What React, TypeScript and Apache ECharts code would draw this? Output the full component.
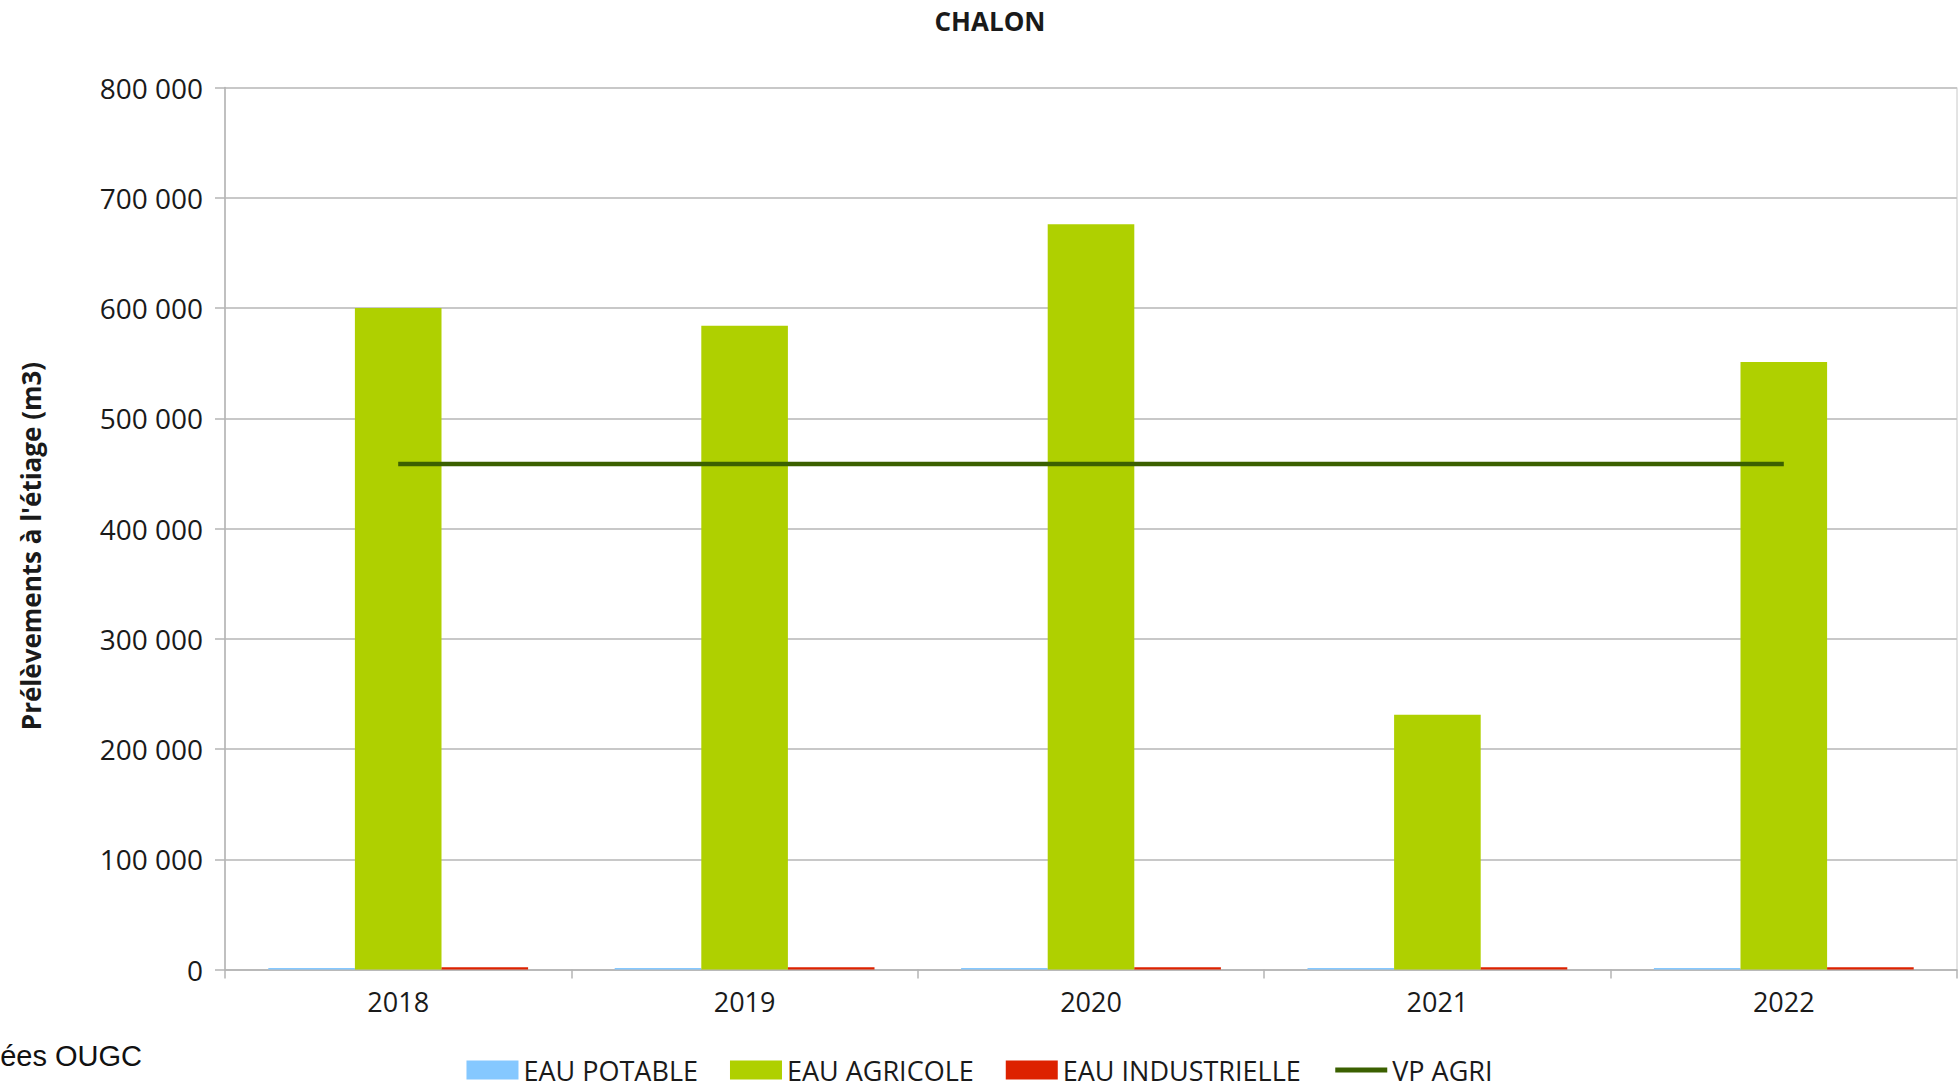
import React, { useEffect, useRef } from "react";
import * as echarts from "echarts";

const years = ["2018", "2019", "2020", "2021", "2022"];
const eauPotable = [1400, 1400, 1400, 1400, 1400];
const eauAgricole = [600000, 584000, 676000, 231000, 551000];
const eauIndustrielle = [2000, 2000, 2000, 2000, 2000];
const vpAgri = [458500, 458500, 458500, 458500, 458500];

const FONT = "'Open Sans', 'Noto Sans', sans-serif";

function fmt(v: number): string {
  return String(Math.round(v)).replace(/\B(?=(\d{3})+(?!\d))/g, " ");
}

export default function App() {
  const ref = useRef<HTMLDivElement>(null);
  useEffect(() => {
    document.body.style.margin = "0";
    if (!ref.current) return;
    const chart = echarts.init(ref.current, undefined, { renderer: "svg" });
    chart.setOption({
      animation: false,
      backgroundColor: "#ffffff",
      title: {
        text: "CHALON",
        left: 985,
        top: 3,
        textAlign: "center",
        textStyle: { fontFamily: FONT, fontSize: 26, fontWeight: "bold", color: "#1a1a1a" },
      },
      grid: {
        left: 225,
        right: 2,
        top: 87.5,
        bottom: 120.5,
        show: true,
        borderColor: "#c8c8c8",
        borderWidth: 1,
      },
      legend: {
        top: 1055,
        left: "center",
        padding: 0,
        itemWidth: 52,
        itemHeight: 19,
        itemGap: 32,
        textStyle: { fontFamily: FONT, fontSize: 27, lineHeight: 30, color: "#1a1a1a" },
        data: [
          { name: "EAU POTABLE", icon: "rect" },
          { name: "EAU AGRICOLE", icon: "rect" },
          { name: "EAU INDUSTRIELLE", icon: "rect" },
          {
            name: "VP AGRI",
            itemStyle: { color: "rgba(0,0,0,0)", borderColor: "rgba(0,0,0,0)", borderWidth: 0 },
            lineStyle: { color: "#3b6000", width: 5 },
          },
        ],
      },
      xAxis: {
        type: "category",
        data: years,
        axisLine: { lineStyle: { color: "#b4b4b4", width: 1.5 } },
        axisTick: { show: true, length: 9, lineStyle: { color: "#b4b4b4", width: 1.5 } },
        axisLabel: { fontFamily: FONT, fontSize: 27, color: "#1a1a1a", margin: 18 },
      },
      yAxis: {
        type: "value",
        min: 0,
        max: 800000,
        interval: 100000,
        axisLine: { show: true, lineStyle: { color: "#b4b4b4", width: 1.5 } },
        axisTick: { show: true, length: 10, lineStyle: { color: "#b4b4b4", width: 1.5 } },
        splitLine: { lineStyle: { color: "#c8c8c8", width: 2 } },
        axisLabel: {
          fontFamily: FONT,
          fontSize: 28,
          color: "#1a1a1a",
          margin: 22,
          formatter: (v: number) => fmt(v),
        },
      },
      series: [
        {
          name: "EAU POTABLE",
          type: "bar",
          data: eauPotable,
          itemStyle: { color: "#85c8ff" },
          barGap: "0%",
          barCategoryGap: "25%",
        },
        {
          name: "EAU AGRICOLE",
          type: "bar",
          data: eauAgricole,
          itemStyle: { color: "#afd000" },
          barGap: "0%",
          barCategoryGap: "25%",
        },
        {
          name: "EAU INDUSTRIELLE",
          type: "bar",
          data: eauIndustrielle,
          itemStyle: { color: "#dd2200" },
          barGap: "0%",
          barCategoryGap: "25%",
        },
        {
          name: "VP AGRI",
          type: "line",
          data: vpAgri,
          symbol: "none",
          lineStyle: { color: "#3b6000", width: 4.5 },
          itemStyle: { color: "#3b6000" },
        },
      ],
      graphic: [
        {
          type: "text",
          x: 31,
          y: 546,
          rotation: Math.PI / 2,
          style: {
            text: "Prélèvements à l'étiage (m3)",
            fontFamily: FONT,
            fontSize: 26,
            fontWeight: "bold",
            fill: "#1a1a1a",
            align: "center",
            verticalAlign: "middle",
          },
        },
        {
          type: "text",
          right: 1959 - 142,
          top: 1041,
          style: {
            text: "ées OUGC",
            fontFamily: "'Liberation Sans', Arial, sans-serif",
            fontSize: 29,
            fill: "#111111",
          },
        },
      ],
    });
    return () => chart.dispose();
  }, []);
  return (
    <div
      ref={ref}
      style={{ position: "absolute", left: 0, top: 0, width: 1959, height: 1090 }}
    />
  );
}
